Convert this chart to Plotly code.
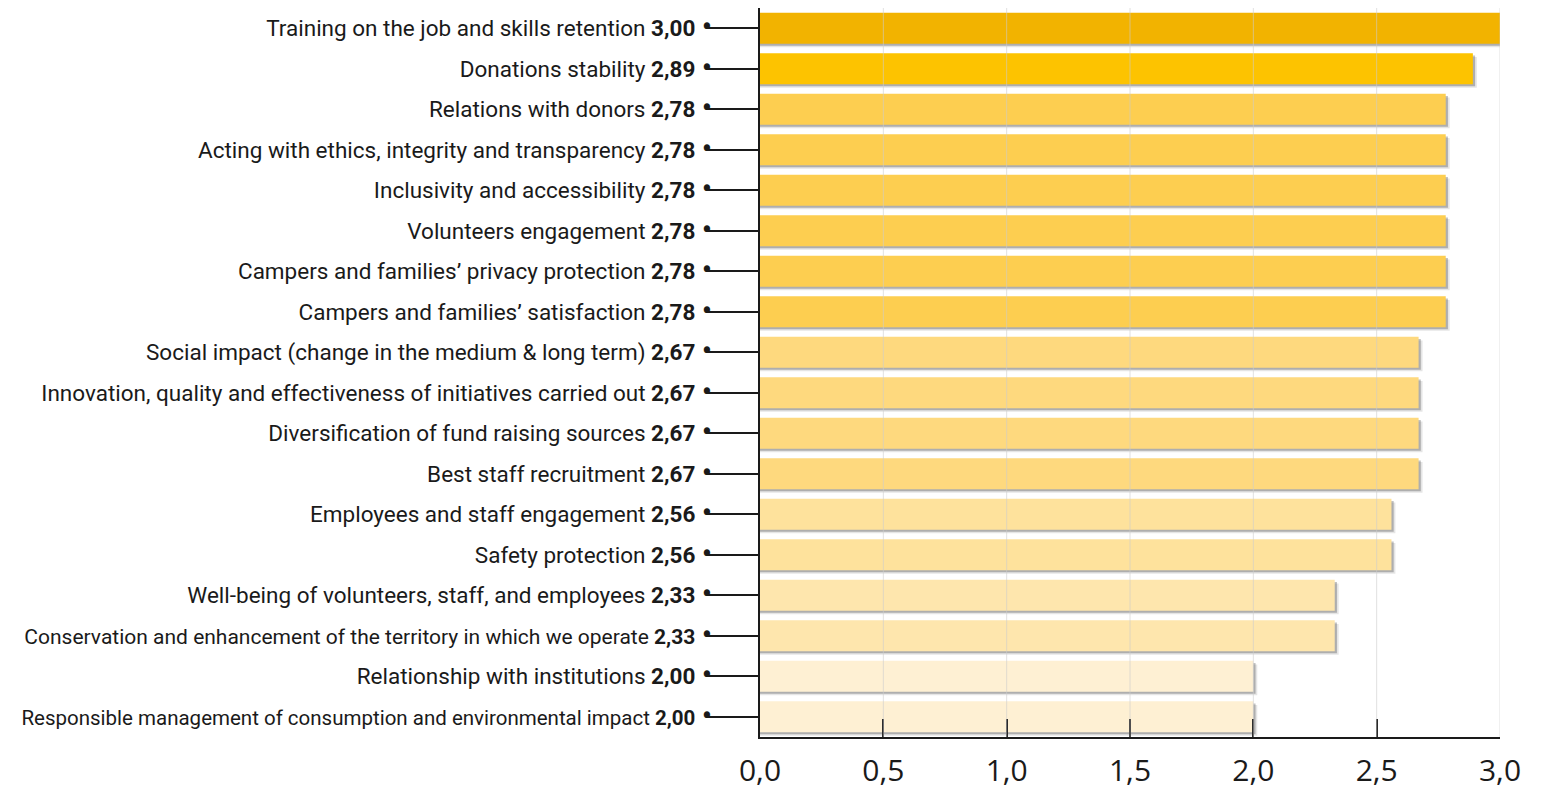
import plotly.graph_objects as go

categories = [
    "Training on the job and skills retention",
    "Donations stability",
    "Relations with donors",
    "Acting with ethics, integrity and transparency",
    "Inclusivity and accessibility",
    "Volunteers engagement",
    "Campers and families\u2019 privacy protection",
    "Campers and families\u2019 satisfaction",
    "Social impact (change in the medium & long term)",
    "Innovation, quality and effectiveness of initiatives carried out",
    "Diversification of fund raising sources",
    "Best staff recruitment",
    "Employees and staff engagement",
    "Safety protection",
    "Well-being of volunteers, staff, and employees",
    "Conservation and enhancement of the territory in which we operate",
    "Relationship with institutions",
    "Responsible management of consumption and environmental impact",
]
values = [3.00, 2.89, 2.78, 2.78, 2.78, 2.78, 2.78, 2.78, 2.67, 2.67, 2.67, 2.67,
          2.56, 2.56, 2.33, 2.33, 2.00, 2.00]
bar_colors = ["#F2B300", "#FDC300"] + ["#FDCE50"] * 6 + ["#FED97E"] * 4 + \
             ["#FEE29C"] * 2 + ["#FEE6AD"] * 2 + ["#FEF0D3"] * 2
# label font sizes (the two longest labels are set a little tighter in the original)
label_sizes = [22.5] * 15 + [21] + [22.5] + [20.5]
x_ticks = [0.0, 0.5, 1.0, 1.5, 2.0, 2.5, 3.0]

idx = list(range(len(categories)))
labels = [
    f"<span style='font-size:{s}px'>{c} <b>{('%.2f' % v).replace('.', ',')}</b></span>"
    f"<span style='font-size:27px'> <b>\u2022</b></span>"
    for c, v, s in zip(categories, values, label_sizes)
]

fig = go.Figure()
# soft shadow layers
fig.add_trace(go.Bar(
    y=idx, x=[v + 0.016 for v in values], orientation="h",
    width=0.76, offset=-0.29, marker=dict(color="rgba(0,0,0,0.10)", line=dict(width=0)),
    hoverinfo="skip", showlegend=False))
fig.add_trace(go.Bar(
    y=idx, x=[v + 0.009 for v in values], orientation="h",
    width=0.76, offset=-0.33, marker=dict(color="rgba(0,0,0,0.24)", line=dict(width=0)),
    hoverinfo="skip", showlegend=False))
fig.add_trace(go.Bar(
    y=idx, x=values, orientation="h",
    width=0.76, offset=-0.38, marker=dict(color=bar_colors, line=dict(width=0)),
    showlegend=False))

for t in x_ticks[1:]:
    fig.add_shape(type="line", xref="x", yref="paper", x0=t, x1=t, y0=0, y1=1,
                  line=dict(color="rgba(205,205,205,0.6)", width=1), layer="above")

fig.update_layout(
    width=1537, height=779,
    margin=dict(l=752, r=45, t=0, b=50),
    plot_bgcolor="white", paper_bgcolor="white",
    barmode="overlay", bargap=0.2,
    separators=",.",
    font=dict(family="Roboto, Inter, sans-serif", color="#1a1a1a"),
)
fig.update_xaxes(
    range=[0, 3.0], tickvals=x_ticks, tickformat=".1f",
    showgrid=False, zeroline=False, automargin=False,
    showline=True, linecolor="#1a1a1a", linewidth=1.5,
    ticks="inside", ticklen=18, tickwidth=1.5, tickcolor="#1a1a1a",
    tickfont=dict(size=30, family="Open Sans, sans-serif", color="#1a1a1a"),
    ticklabelstandoff=6,
)
fig.update_yaxes(
    range=[len(categories) - 0.5, -0.5], tickvals=idx, ticktext=labels,
    showgrid=False, zeroline=False, automargin=False,
    showline=True, linecolor="#1a1a1a", linewidth=1.5,
    ticks="outside", ticklen=50, tickwidth=1.5, tickcolor="#1a1a1a",
    tickfont=dict(size=22.5, color="#1a1a1a"),
    ticklabelstandoff=-8,
)

fig.write_html("out.html")
